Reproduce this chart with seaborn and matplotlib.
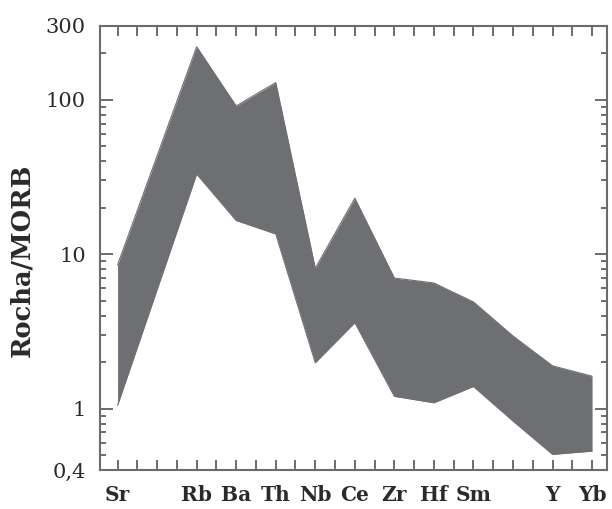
import numpy as np
import pandas as pd
import matplotlib
matplotlib.use("Agg")
import matplotlib.pyplot as plt
from matplotlib.ticker import FixedLocator, NullFormatter
import seaborn as sns

# ---- data -------------------------------------------------------------
slots = ["Sr", "K", "Rb", "Ba", "Th", "Nb", "Ce", "Zr", "Hf", "Sm", "Ti", "Y", "Yb"]
tick_labels = ["Sr", "", "Rb", "Ba", "Th", "Nb", "Ce", "Zr", "Hf", "Sm", "", "Y", "Yb"]
elements = ["Sr", "Rb", "Ba", "Th", "Nb", "Ce", "Zr", "Hf", "Sm", "Ti", "Y", "Yb"]
upper = [8.5, 220, 91, 129, 8.1, 23, 7.0, 6.5, 4.9, 2.95, 1.89, 1.62]
lower = [1.05, 33, 16.5, 13.5, 1.98, 3.6, 1.2, 1.09, 1.39, 0.83, 0.505, 0.53]
y_tick_values = [0.4, 1, 10, 100, 300]
y_tick_labels = ["0,4", "1", "10", "100", "300"]

df = pd.DataFrame({"element": elements, "upper": upper, "lower": lower})
df["x"] = [slots.index(e) for e in elements]

sns.set_theme(style="ticks")
plt.rcParams["font.family"] = ["DejaVu Serif"]

fill_col = "#6e6f72"
axis_col = "#6b6b6b"
text_col = "#2a2a2a"

fig = plt.figure(figsize=(6.12, 5.09), dpi=100)
ax = fig.add_axes([0.163, 0.0766, 0.829, 0.8724])

ax.fill_between(df["x"], df["lower"], df["upper"], color=fill_col, linewidth=0)
sns.lineplot(data=df, x="x", y="upper", ax=ax, color=fill_col, linewidth=0.8, sort=False)
sns.lineplot(data=df, x="x", y="lower", ax=ax, color=fill_col, linewidth=0.8, sort=False)

ax.set_yscale("log")
ax.set_ylim(0.4, 300)
ax.set_xlim(-0.45, 12.38)

# x ticks
ax.xaxis.set_major_locator(FixedLocator(range(len(slots))))
ax.set_xticklabels(tick_labels, fontsize=14.5, fontweight="bold", color=text_col)
ax.xaxis.set_minor_locator(FixedLocator(np.arange(0.5, len(slots) - 1, 1.0)))

# y ticks
ax.yaxis.set_major_locator(FixedLocator(y_tick_values))
ax.set_yticklabels(y_tick_labels, fontsize=15, color=text_col)
minor_y = [v * 10.0 ** k for k in (-1, 0, 1, 2) for v in range(2, 10)]
minor_y = [m for m in minor_y if 0.4 < m < 300 and m not in (1, 10, 100)]
ax.yaxis.set_minor_locator(FixedLocator(minor_y))
ax.yaxis.set_minor_formatter(NullFormatter())

ax.tick_params(axis="x", which="both", direction="in", top=True, bottom=True,
               length=7, width=1.4, color=axis_col, pad=11)
ax.tick_params(axis="y", which="major", direction="in", left=True, right=True,
               length=9, width=1.4, color=axis_col, pad=10)
ax.tick_params(axis="y", which="minor", direction="in", left=True, right=True,
               length=4.5, width=1.4, color=axis_col)

for s in ax.spines.values():
    s.set_visible(True)
    s.set_color(axis_col)
    s.set_linewidth(1.5)

ax.set_xlabel("")
ax.set_ylabel("Rocha/MORB", fontsize=18.5, fontweight="bold", color=text_col)
ax.yaxis.set_label_coords(-0.13, 0.473)

fig.savefig("out.png", dpi=100, facecolor="white")
